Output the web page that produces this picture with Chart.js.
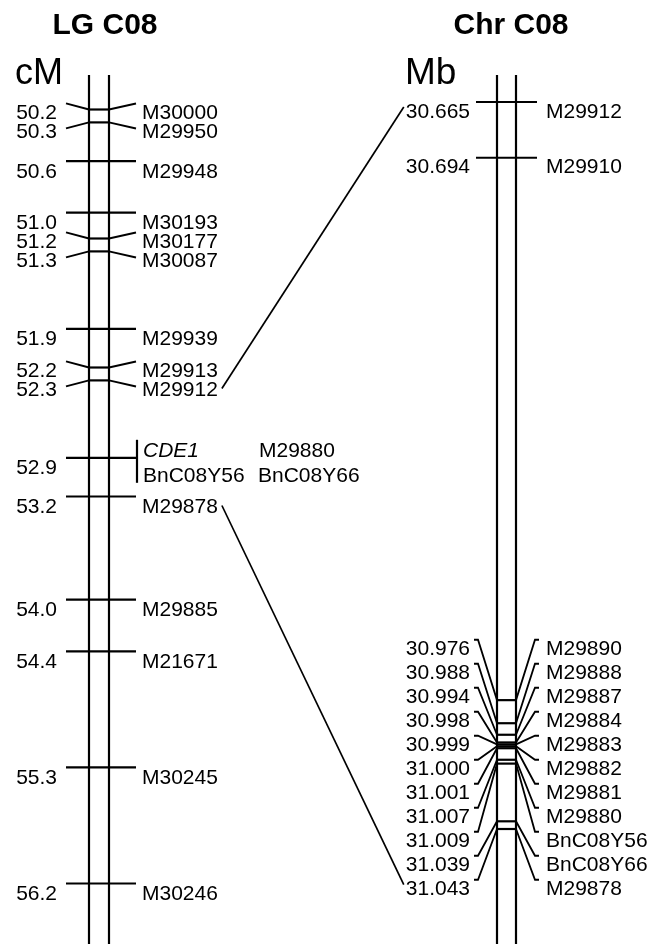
<!DOCTYPE html>
<html>
<head>
<meta charset="utf-8">
<script src="https://cdn.jsdelivr.net/npm/chart.js@4.4.1/dist/chart.umd.min.js"></script>
<style>
  html, body { margin: 0; padding: 0; background: #fff; }
  #wrap { position: relative; width: 651px; height: 944px; }
</style>
</head>
<body>
<div id="wrap"><canvas id="map"></canvas></div>
<script>
// Linkage group LG C08 (cM)
const lgPositions = [50.2, 50.3, 50.6, 51.0, 51.2, 51.3, 51.9, 52.2, 52.3, 52.9, 53.2, 54.0, 54.4, 55.3, 56.2];
const lgMarkers = ['M30000', 'M29950', 'M29948', 'M30193', 'M30177', 'M30087', 'M29939', 'M29913', 'M29912',
    ['CDE1', 'M29880', 'BnC08Y56', 'BnC08Y66'], 'M29878', 'M29885', 'M21671', 'M30245', 'M30246'];

// Physical map Chr C08 (Mb)
const chrPositions = [30.665, 30.694, 30.976, 30.988, 30.994, 30.998, 30.999, 31.000, 31.001, 31.007, 31.009, 31.039, 31.043];
const chrMarkers = ['M29912', 'M29910', 'M29890', 'M29888', 'M29887', 'M29884', 'M29883', 'M29882', 'M29881',
    'M29880', 'BnC08Y56', 'BnC08Y66', 'M29878'];

// Markers joined between the two maps
const linkedMarkers = ['M29912', 'M29878'];

const FONT = '"Liberation Sans", Arial, Helvetica, sans-serif';
const LG = { left: 89, right: 109, tickL: 66, tickR: 136, posX: 57, nameX: 142, center: 99 };
const CHR = { left: 497, right: 516, tickL: 476, tickR: 537, posX: 470, nameX: 546, center: 506 };

// Spread labels so they do not overlap, groups are centred on their ticks
const spread = (ys, gap) => {
    let groups = ys.map(y => ({ n: 1, sum: y }));
    let changed = true;
    while (changed) {
        changed = false;
        for (let i = 0; i < groups.length - 1; i++) {
            const a = groups[i], b = groups[i + 1];
            const aLast = a.sum / a.n + (a.n - 1) * gap / 2;
            const bFirst = b.sum / b.n - (b.n - 1) * gap / 2;
            if (bFirst - aLast < gap) {
                groups.splice(i, 2, { n: a.n + b.n, sum: a.sum + b.sum });
                changed = true;
                break;
            }
        }
    }
    const out = [];
    groups.forEach(g => {
        for (let k = 0; k < g.n; k++) {
            out.push({ mean: g.sum / g.n, k: k - (g.n - 1) / 2, n: g.n });
        }
    });
    return out;
};

const path = (ctx, pts, width) => {
    ctx.lineWidth = width;
    ctx.beginPath();
    pts.forEach((p, i) => i ? ctx.lineTo(p[0], p[1]) : ctx.moveTo(p[0], p[1]));
    ctx.stroke();
};

const text = (ctx, str, x, cy, align, size, style) => {
    ctx.font = `${style || ''} ${size}px ${FONT}`;
    ctx.textAlign = align;
    ctx.textBaseline = 'alphabetic';
    ctx.fillText(str, x, cy + size * 0.358);
    return ctx.measureText(str).width;
};

const mapPlugin = {
    id: 'geneticMap',
    afterDatasetsDraw(chart) {
        const ctx = chart.ctx;
        const bottom = chart.chartArea.bottom;
        const lgY = chart.getDatasetMeta(0).data.map(el => el.y);
        const chrY = chart.getDatasetMeta(1).data.map(el => el.y);
        ctx.save();
        ctx.strokeStyle = '#000';
        ctx.fillStyle = '#000';
        ctx.lineCap = 'butt';

        // titles and units
        text(ctx, 'LG C08', 105, 23, 'center', 30, 'bold');
        text(ctx, 'Chr C08', 511, 23, 'center', 30, 'bold');
        ctx.textAlign = 'left';
        ctx.font = `36px ${FONT}`;
        ctx.fillText('cM', 15, 84);
        ctx.font = `37px ${FONT}`;
        ctx.fillText('Mb', 405, 84);

        // chromosome bars
        [LG.left, LG.right, CHR.left, CHR.right].forEach(x => path(ctx, [[x, 75], [x, bottom]], 2.2));

        const linkEnds = {};

        // linkage group
        const lgSp = spread(lgY, 19);
        lgY.forEach((y, i) => {
            const s = lgSp[i];
            const name = lgMarkers[i];
            const label = lgPositions[i].toFixed(1);
            if (Array.isArray(name)) {
                path(ctx, [[LG.tickL, y], [LG.tickR + 1, y]], 2.2);
                path(ctx, [[LG.tickR + 1, y - 18], [LG.tickR + 1, y + 25]], 2.2);
                text(ctx, label, LG.posX, y + 9, 'right', 21);
                text(ctx, name[0], LG.nameX + 1, y - 8, 'left', 21, 'italic');
                text(ctx, name[1], 259, y - 8, 'left', 21);
                text(ctx, name[2], LG.nameX + 1, y + 17, 'left', 21);
                text(ctx, name[3], 258, y + 17, 'left', 21);
                return;
            }
            let ty, ey;
            if (s.n > 1) {
                ty = s.mean + 5 + s.k * 19;
                ey = s.mean + s.k * 25;
                path(ctx, [[LG.tickL, ey], [LG.left, y]], 1.9);
                path(ctx, [[LG.left, y], [LG.right, y]], 2.2);
                path(ctx, [[LG.right, y], [LG.tickR, ey]], 1.9);
            } else {
                ty = y + 9;
                path(ctx, [[LG.tickL, y], [LG.tickR, y]], 2.2);
            }
            text(ctx, label, LG.posX, ty, 'right', 21);
            const w = text(ctx, name, LG.nameX, ty, 'left', 21);
            if (linkedMarkers.includes(name)) linkEnds[name] = { a: [LG.nameX + w + 4, ty] };
        });

        // physical map
        const chrSp = spread(chrY, 24);
        chrY.forEach((y, i) => {
            const s = chrSp[i];
            const name = chrMarkers[i];
            const label = chrPositions[i].toFixed(3);
            let ey;
            if (s.n > 1) {
                ey = s.mean + 4 + s.k * 24;
                path(ctx, [[CHR.tickL - 2, ey], [CHR.tickL + 2, ey], [CHR.left, y]], 1.8);
                path(ctx, [[CHR.left, y], [CHR.right, y]], 2.2);
                path(ctx, [[CHR.right, y], [CHR.tickR - 2, ey], [CHR.tickR + 2, ey]], 1.8);
            } else {
                ey = y;
                path(ctx, [[CHR.tickL, y], [CHR.tickR, y]], 2.2);
            }
            const ty = ey + 8;
            const w = text(ctx, label, CHR.posX, ty, 'right', 21);
            text(ctx, name, CHR.nameX, ty, 'left', 21);
            if (linkedMarkers.includes(name) && linkEnds[name]) linkEnds[name].b = [CHR.posX - w - 2, ty - 3];
        });

        // lines joining the same marker on both maps
        linkedMarkers.forEach(m => {
            const l = linkEnds[m];
            if (l && l.b) path(ctx, [l.a, l.b], 1.7);
        });
        ctx.restore();
    }
};

const ctx = document.getElementById('map').getContext('2d');
const chart = new Chart(ctx, {
    type: 'scatter',
    data: {
        datasets: [{
            label: 'LG C08',
            data: lgPositions.map(p => ({ x: LG.center, y: p })),
            yAxisID: 'y',
            pointRadius: 0
        }, {
            label: 'Chr C08',
            data: chrPositions.map(p => ({ x: CHR.center, y: p })),
            yAxisID: 'y2',
            pointRadius: 0
        }]
    },
    options: {
        responsive: true,
        maintainAspectRatio: false,
        animation: false,
        events: [],
        layout: { padding: 0 },
        plugins: {
            legend: { display: false },
            tooltip: { enabled: false }
        },
        scales: {
            x: { type: 'linear', min: 0, max: 651, display: false },
            y: { type: 'linear', reverse: true, min: 49.35116, max: 56.66899, display: false },
            y2: { type: 'linear', reverse: true, min: 30.611966, max: 31.102794, display: false }
        }
    },
    plugins: [mapPlugin]
});
</script>
</body>
</html>
